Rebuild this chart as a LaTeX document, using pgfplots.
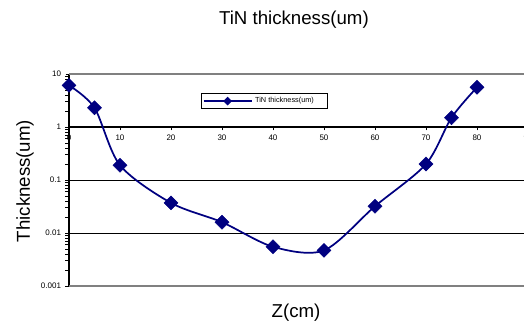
\documentclass[border=0pt]{standalone}
\usepackage{pgfplots}
\pgfplotsset{compat=1.18}
\usepackage{fontspec}
\setmainfont{Liberation Sans}
\definecolor{navy}{HTML}{000080}
\definecolor{bgray}{HTML}{808080}
\begin{document}
\begin{tikzpicture}
\useasboundingbox (0,0) rectangle (393pt,247.5pt);
\begin{axis}[
  at={(51.75pt,33pt)}, anchor=south west,
  scale only axis, width=344.25pt, height=159pt,
  xmin=0, xmax=90, ymode=log, ymin=0.001, ymax=10,
  axis x line*=middle, axis y line*=left,
  hide obscured x ticks=false, hide obscured y ticks=false,
  x axis line style={black, line width=1.5pt},
  y axis line style={black, line width=1.1pt},
  clip=false,
  /pgf/number format/assume math mode=true,
  xtick={0,10,...,90},
  ytick={0.001,0.01,0.1,1,10},
  yticklabels={0.001,0.01,0.1,1,10},
  ticklabel style={font=\fontsize{6}{7}\selectfont},
  tick align=outside, major tick length=2.5pt,
  tick style={black, line width=0.6pt},
  minor tick num=0,
  ymajorgrids, grid style={black, line width=0.75pt},
  title={TiN thickness(um)},
  every axis title shift=0pt,
  title style={at={(axis description cs:0.49,1.2547)}, anchor=center, font=\fontsize{14}{16}\selectfont},
  xlabel={Z(cm)},
  every axis x label/.style={at={(axis description cs:0.4946,-0.127)}, anchor=center, font=\fontsize{14}{16}\selectfont},
  ylabel={Thickness(um)},
  every axis y label/.style={at={(axis description cs:-0.0959,0.495)}, rotate=90, anchor=center, font=\fontsize{14}{16}\selectfont},
  legend style={at={(axis description cs:0.2876,0.9104)}, anchor=north west, draw=black, line width=0.6pt,
    font=\fontsize{5.5}{6}\selectfont, inner xsep=1pt, inner ysep=1pt},
  legend image code/.code={\draw[mark repeat=2,mark phase=2,#1,mark options={scale=0.45,rotate=45}] plot coordinates {(0pt,0pt) (18pt,0pt) (36pt,0pt)};},
]
\draw[bgray, line width=1.5pt] (axis cs:0,10) -- (axis cs:90,10);
\draw[bgray, line width=1.5pt] (axis cs:0,0.001) -- (axis cs:90,0.001);
\addplot[navy, line width=1.3pt, smooth, tension=0.5, mark=square*, mark size=3.7pt,
  mark options={rotate=45, fill=navy, draw=navy, line width=0.4pt}]
  coordinates {(0,6.1) (5,2.3) (10,0.19) (20,0.037) (30,0.016) (40,0.0055) (50,0.0047) (60,0.032) (70,0.2) (75,1.5) (80,5.6)};
\addlegendentry{\makebox[51pt][l]{TiN thickness(um)}}
\end{axis}
\end{tikzpicture}
\end{document}
